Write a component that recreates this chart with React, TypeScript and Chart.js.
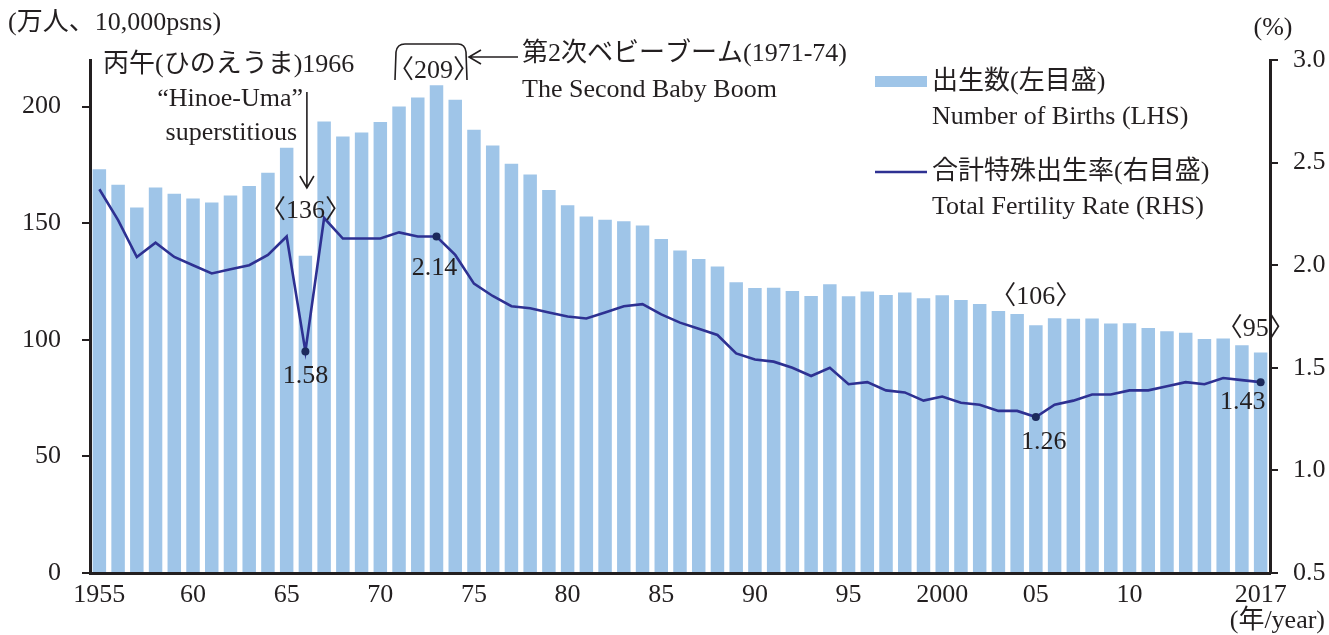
import React, { useEffect, useRef } from 'react';
import { Chart, registerables } from 'chart.js';

Chart.register(...registerables);

// ---------- data ----------
const years = [
  '1955', '1956', '1957', '1958', '1959', '1960', '1961', '1962', '1963', '1964',
  '1965', '1966', '1967', '1968', '1969', '1970', '1971', '1972', '1973', '1974',
  '1975', '1976', '1977', '1978', '1979', '1980', '1981', '1982', '1983', '1984',
  '1985', '1986', '1987', '1988', '1989', '1990', '1991', '1992', '1993', '1994',
  '1995', '1996', '1997', '1998', '1999', '2000', '2001', '2002', '2003', '2004',
  '2005', '2006', '2007', '2008', '2009', '2010', '2011', '2012', '2013', '2014',
  '2015', '2016', '2017',
];

// Number of births (10,000 persons)
const births = [
  173.1, 166.5, 156.7, 165.3, 162.6, 160.6, 158.9, 161.9, 166.0, 171.7,
  182.4, 136.1, 193.6, 187.2, 188.9, 193.4, 200.1, 203.9, 209.2, 203.0,
  190.1, 183.3, 175.5, 170.9, 164.3, 157.7, 152.9, 151.5, 150.9, 149.0,
  143.2, 138.3, 134.7, 131.4, 124.7, 122.2, 122.3, 120.9, 118.8, 123.8,
  118.7, 120.7, 119.2, 120.3, 117.8, 119.1, 117.1, 115.4, 112.4, 111.1,
  106.3, 109.3, 109.0, 109.1, 107.0, 107.1, 105.1, 103.7, 103.0, 100.4,
  100.6, 97.7, 94.6,
];

// Total fertility rate
const tfr = [
  2.37, 2.22, 2.04, 2.11, 2.04, 2.00, 1.96, 1.98, 2.00, 2.05,
  2.14, 1.58, 2.23, 2.13, 2.13, 2.13, 2.16, 2.14, 2.14, 2.05,
  1.91, 1.85, 1.80, 1.79, 1.77, 1.75, 1.74, 1.77, 1.80, 1.81,
  1.76, 1.72, 1.69, 1.66, 1.57, 1.54, 1.53, 1.50, 1.46, 1.50,
  1.42, 1.43, 1.39, 1.38, 1.34, 1.36, 1.33, 1.32, 1.29, 1.29,
  1.26, 1.32, 1.34, 1.37, 1.37, 1.39, 1.39, 1.41, 1.43, 1.42,
  1.45, 1.44, 1.43,
];

const xTickYears = ['1955', '1960', '1965', '1970', '1975', '1980', '1985', '1990', '1995', '2000', '2005', '2010', '2017'];
const xTickText = ['1955', '60', '65', '70', '75', '80', '85', '90', '95', '2000', '05', '10', '2017'];

const markedYears = ['1966', '1973', '2005', '2017'];

// ---------- style ----------
const SERIF = '"Liberation Serif", "Noto Sans CJK JP", serif';
const FS = 26;
const font = (px: number) => `${px}px ${SERIF}`;
const INK = '#231f20';
const BAR = '#9fc5e8';
const LINE = '#2e3192';
const DOT = '#1c2a5c';

const annotations = {
  id: 'annotations',
  afterDraw(chart: any) {
    const { ctx } = chart;
    const x = chart.scales.x;
    const y = chart.scales.y;
    const y1 = chart.scales.y1;
    const T = (s: string, px: number, py: number, align: CanvasTextAlign = 'left', size = FS) => {
      ctx.font = font(size);
      ctx.textAlign = align;
      ctx.textBaseline = 'middle';
      ctx.fillText(s, px, py);
    };
    const idx = (yr: string) => years.indexOf(yr);
    const px = (yr: string) => x.getPixelForValue(idx(yr));

    ctx.save();
    ctx.fillStyle = INK;
    ctx.strokeStyle = INK;

    // axis titles
    T('(万人、10,000psns)', 8, 23, 'left');
    T('(%)', 1273, 28, 'center');
    T('(年/year)', 1325, 621, 'right');

    // Hinoe-Uma
    T('丙午(ひのえうま)1966', 103, 65, 'left');
    T('“Hinoe-Uma”', 303, 99, 'right');
    T('superstitious', 297, 133, 'right');
    const ax = px('1966') + 1.5;
    ctx.lineWidth = 1.6;
    ctx.beginPath();
    ctx.moveTo(ax, 92);
    ctx.lineTo(ax, 187);
    ctx.moveTo(ax - 7, 176);
    ctx.lineTo(ax, 188);
    ctx.lineTo(ax + 7, 176);
    ctx.stroke();

    // 1966 labels
    T('〈136〉', px('1966'), y.getPixelForValue(births[idx('1966')]) - 44, 'center');
    T('1.58', px('1966'), y1.getPixelForValue(tfr[idx('1966')]) + 25, 'center');

    // 1973 labels
    T('〈209〉', px('1973') - 3, y.getPixelForValue(births[idx('1973')]) - 14, 'center');
    T('2.14', px('1973') - 2, y1.getPixelForValue(tfr[idx('1973')]) + 32, 'center');

    // bracket around baby boom
    ctx.lineWidth = 1.6;
    ctx.beginPath();
    ctx.moveTo(395, 80);
    ctx.lineTo(396, 52);
    ctx.quadraticCurveTo(397, 44, 405, 44);
    ctx.lineTo(458, 44);
    ctx.quadraticCurveTo(465, 44, 466, 52);
    ctx.lineTo(467, 80);
    ctx.stroke();
    // left arrow
    ctx.beginPath();
    ctx.moveTo(518, 57);
    ctx.lineTo(470, 57);
    ctx.moveTo(481, 50);
    ctx.lineTo(469, 57);
    ctx.lineTo(481, 64);
    ctx.stroke();
    T('第2次ベビーブーム(1971-74)', 522, 54, 'left');
    T('The Second Baby Boom', 522, 90, 'left');

    // 2005 labels
    T('〈106〉', px('2005'), y.getPixelForValue(births[idx('2005')]) - 28, 'center');
    T('1.26', px('2005') + 8, y1.getPixelForValue(tfr[idx('2005')]) + 25, 'center');

    // 2017 labels
    T('〈95〉', px('2017') - 5, y.getPixelForValue(births[idx('2017')]) - 23, 'center');
    T('1.43', px('2017') - 18, y1.getPixelForValue(tfr[idx('2017')]) + 20, 'center');

    // legend
    ctx.fillStyle = BAR;
    ctx.fillRect(875, 76, 52, 11);
    ctx.strokeStyle = LINE;
    ctx.lineWidth = 2.5;
    ctx.beginPath();
    ctx.moveTo(875, 172);
    ctx.lineTo(927, 172);
    ctx.stroke();
    ctx.fillStyle = INK;
    T('出生数(左目盛)', 932, 82, 'left');
    T('Number of Births (LHS)', 932, 117, 'left');
    T('合計特殊出生率(右目盛)', 932, 172, 'left');
    T('Total Fertility Rate (RHS)', 932, 207, 'left');

    ctx.restore();
  },
};

export default function App() {
  const ref = useRef<HTMLCanvasElement | null>(null);

  useEffect(() => {
    if (!ref.current) return;
    const pointRadius = years.map((yr) => (markedYears.includes(yr) ? 4 : 0));
    const chart = new Chart(ref.current, {
      type: 'bar',
      data: {
        labels: years,
        datasets: [
          {
            type: 'line',
            label: '合計特殊出生率(右目盛)',
            data: tfr,
            yAxisID: 'y1',
            borderColor: LINE,
            borderWidth: 2.6,
            pointRadius,
            pointHoverRadius: pointRadius,
            pointBackgroundColor: DOT,
            pointBorderColor: DOT,
            pointBorderWidth: 0,
            tension: 0,
            order: 0,
          } as any,
          {
            type: 'bar',
            label: '出生数(左目盛)',
            data: births,
            yAxisID: 'y',
            backgroundColor: BAR,
            borderWidth: 0,
            categoryPercentage: 1,
            barPercentage: 0.72,
            order: 1,
          },
        ],
      },
      options: {
        responsive: false,
        animation: false,
        layout: { padding: { top: 60, left: 0, right: 0, bottom: 0 } },
        plugins: {
          legend: { display: false },
          tooltip: { enabled: false },
        },
        scales: {
          x: {
            type: 'category',
            offset: true,
            grid: { display: true, drawOnChartArea: false, drawTicks: false },
            border: { display: true, color: INK, width: 3 },
            ticks: {
              autoSkip: false,
              maxRotation: 0,
              minRotation: 0,
              padding: 7,
              color: INK,
              font: { family: SERIF, size: FS },
              callback: (_v: any, i: number) => {
                const k = xTickYears.indexOf(years[i]);
                return k >= 0 ? xTickText[k] : '';
              },
            },
            afterFit: (s: any) => {
              s.height = 62;
            },
          },
          y: {
            type: 'linear',
            position: 'left',
            min: 0,
            max: 220,
            grid: { drawOnChartArea: false, drawTicks: true, tickLength: 8, color: INK, lineWidth: 2 },
            border: { display: true, color: INK, width: 3 },
            ticks: {
              stepSize: 50,
              includeBounds: false,
              padding: 21,
              color: INK,
              font: { family: SERIF, size: FS },
            },
            afterFit: (s: any) => {
              s.width = 90;
            },
          },
          y1: {
            type: 'linear',
            position: 'right',
            min: 0.5,
            max: 3.0,
            grid: { drawOnChartArea: false, drawTicks: true, tickLength: 8, color: INK, lineWidth: 2 },
            border: { display: true, color: INK, width: 3 },
            ticks: {
              stepSize: 0.5,
              padding: 15,
              color: INK,
              font: { family: SERIF, size: FS },
              callback: (v: any) => Number(v).toFixed(1),
            },
            afterFit: (s: any) => {
              s.width = 59;
            },
          },
        },
      },
      plugins: [annotations],
    });
    return () => chart.destroy();
  }, []);

  return (
    <div style={{ position: 'fixed', left: 0, top: 0, width: 1329, height: 635, background: '#fff' }}>
      <canvas ref={ref} width={1329} height={635} style={{ display: 'block' }} />
    </div>
  );
}
